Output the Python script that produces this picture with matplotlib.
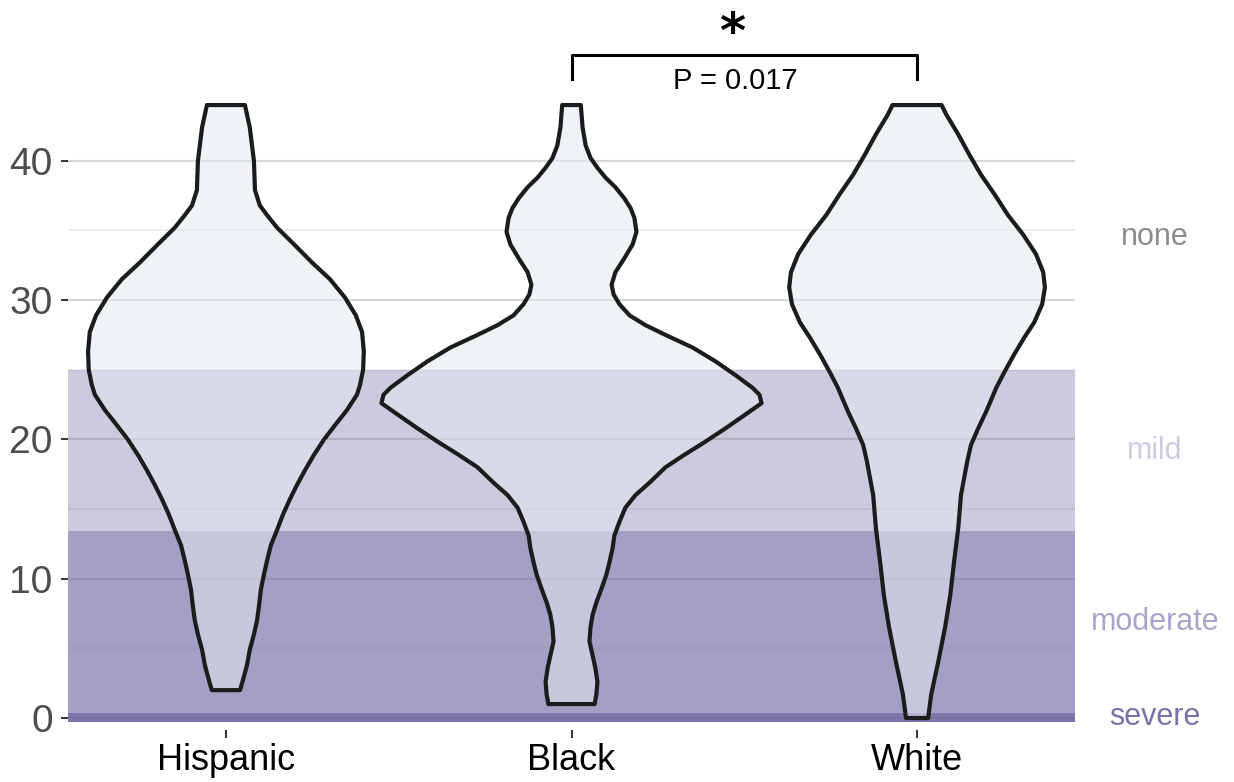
import matplotlib
matplotlib.use("Agg")
import matplotlib.pyplot as plt
import numpy as np

plt.rcParams['font.family'] = ['Liberation Sans', 'DejaVu Sans']

groups = ["Hispanic", "Black", "White"]

# violin outlines: score level and half width (in category units)
hisp_y = [44.0, 42.4, 40.0, 37.9, 36.8, 36.1, 35.2, 34.0, 32.7, 31.5, 30.2, 28.9, 27.7,
          26.3, 25.0, 23.9, 23.2, 22.1, 21.0, 20.0, 18.9, 17.8, 16.7, 15.7, 14.6, 13.5,
          12.4, 11.3, 10.3, 9.2, 8.1, 7.0, 6.0, 4.9, 3.8, 2.7, 2.0]
hisp_w = [0.055, 0.069, 0.081, 0.084, 0.098, 0.119, 0.148, 0.197, 0.249, 0.301, 0.344, 0.376, 0.394,
          0.399, 0.397, 0.388, 0.379, 0.350, 0.315, 0.284, 0.255, 0.229, 0.205, 0.185, 0.165, 0.148,
          0.130, 0.119, 0.110, 0.101, 0.096, 0.090, 0.081, 0.069, 0.061, 0.049, 0.041]

black_y = [44.0, 42.4, 41.1, 40.2, 39.5, 38.8, 38.1, 37.3, 36.6, 35.9, 34.9, 34.0, 33.0,
           32.0, 31.1, 30.4, 29.7, 28.9, 28.2, 27.5, 26.6, 25.6, 24.6, 23.7, 23.2, 22.6,
           21.8, 20.8, 19.8, 18.9, 18.0, 16.9, 16.0, 15.1, 14.1, 13.1, 12.2, 11.2, 10.3,
           9.3, 8.3, 7.4, 6.5, 5.5, 4.5, 3.6, 2.6, 1.7, 1.0]
black_w = [0.027, 0.032, 0.041, 0.055, 0.075, 0.098, 0.127, 0.153, 0.171, 0.182, 0.188, 0.177, 0.153,
           0.127, 0.116, 0.122, 0.139, 0.168, 0.214, 0.272, 0.350, 0.417, 0.475, 0.524, 0.544, 0.550,
           0.504, 0.446, 0.385, 0.327, 0.272, 0.226, 0.185, 0.156, 0.139, 0.124, 0.119, 0.110, 0.101,
           0.087, 0.072, 0.061, 0.055, 0.052, 0.061, 0.069, 0.075, 0.072, 0.067]

white_y = [44.0, 43.3, 41.9, 40.4, 39.0, 37.6, 36.1, 34.7, 33.3, 32.0, 30.9, 29.7, 28.4,
           27.3, 26.1, 24.8, 23.7, 22.0, 20.8, 19.6, 18.4, 17.2, 16.0, 13.6, 11.2, 8.8,
           6.5, 4.0, 1.7, 0.0]
white_w = [0.071, 0.085, 0.119, 0.152, 0.185, 0.224, 0.263, 0.307, 0.344, 0.365, 0.370, 0.362, 0.339,
           0.310, 0.281, 0.252, 0.229, 0.200, 0.177, 0.156, 0.145, 0.136, 0.127, 0.119, 0.107, 0.096,
           0.081, 0.061, 0.041, 0.032]

violins = [(hisp_y, hisp_w), (black_y, black_w), (white_y, white_w)]

# severity bands
band_names = ["severe", "moderate", "mild", "none"]
band_lo = [-0.3, 0.35, 13.4, 25.0]
band_hi = [0.35, 13.4, 25.0, 44.0]
band_colors = ["#7d75ab", "#a69fc5", "#cdc9df", "white"]
label_colors = ["#7b73a8", "#aaa4cb", "#cfcbe2", "#8c8c8c"]

p_text = "P = 0.017"

fig = plt.figure(figsize=(12.34, 7.82), dpi=100)
ax = fig.add_axes([68 / 1234, 52 / 782, 1007 / 1234, 730 / 782])

ax.set_xlim(0.543, 3.457)
ax.set_ylim(-0.86, 51.54)

for lo, hi, c in zip(band_lo[:3], band_hi[:3], band_colors[:3]):
    ax.axhspan(lo, hi, color=c, lw=0, zorder=0.5)

# grid
for yv in [0, 10, 20, 30, 40]:
    ax.axhline(yv, color=(0.45, 0.45, 0.45, 0.28), lw=1.5, zorder=1)
for yv in [5, 15, 25, 35]:
    ax.axhline(yv, color=(0.45, 0.45, 0.45, 0.16), lw=1.1, zorder=1)

for i, (ys, ws) in enumerate(violins):
    xc = i + 1
    ys = np.array(ys)
    ws = np.array(ws)
    xs = np.concatenate([xc - ws, (xc + ws)[::-1]])
    yy = np.concatenate([ys, ys[::-1]])
    ax.fill(xs, yy, facecolor=(227 / 255, 233 / 255, 242 / 255, 0.55),
            edgecolor="#1c1c1c", lw=3.0, joinstyle="round", zorder=2)

# significance bracket
ax.plot([2, 2, 3, 3], [45.9, 47.6, 47.6, 45.9], color="black", lw=2.2,
        clip_on=False, zorder=3)
ax.text(2.473, 45.75, p_text, ha="center", va="center", fontsize=21, color="black")
ax.text(2.465, 49.15, r"$\mathbf{*}$", ha="center", va="center", fontsize=36,
        color="black")

# band labels on the right
for name, lo, hi, c in zip(band_names, band_lo, band_hi, label_colors):
    mid = (max(lo, 0) + hi) / 2 if name != "severe" else 0.1
    ax.text(3.689, mid, name, ha="center", va="center", fontsize=22,
            color=c, clip_on=False)

ax.set_xticks([1, 2, 3])
ax.set_xticklabels(groups, fontsize=26, color="black")
ax.set_yticks([0, 10, 20, 30, 40])
ax.set_yticklabels(["0", "10", "20", "30", "40"], fontsize=28, color="#4d4d4d")
ax.tick_params(axis="y", length=5, width=1.4, color="#333333", pad=6)
ax.tick_params(axis="x", length=5.5, width=1.4, color="#333333", pad=4)

for s in ax.spines.values():
    s.set_visible(False)
ax.set_facecolor("white")

fig.savefig("out.png", dpi=100)
